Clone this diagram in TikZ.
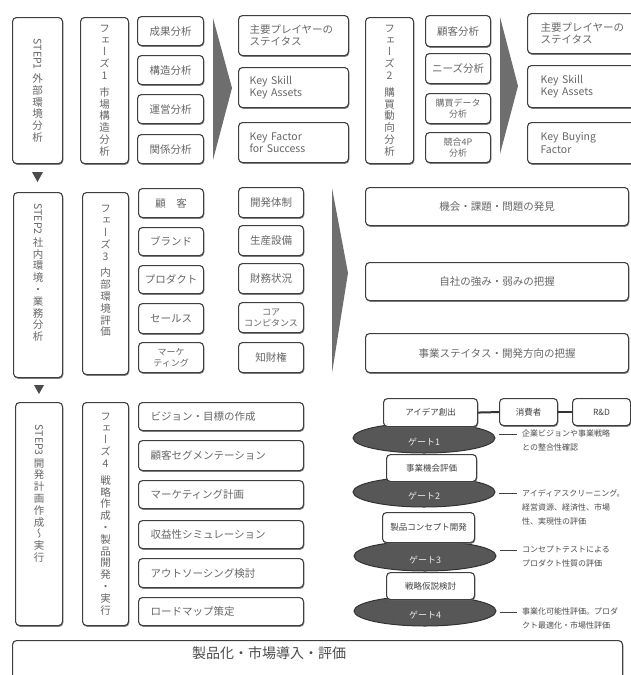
\documentclass[tikz,border=0pt]{standalone}
\usepackage{fontspec}
\usepackage{graphicx}
\usetikzlibrary{shapes.geometric,shadows}
\newfontfamily\jp{Noto Sans CJK JP}
\newfontfamily\vjp[RawFeature=+vert]{Noto Sans CJK JP}
\definecolor{bline}{HTML}{3F3F3F}
\definecolor{btext}{HTML}{666666}
\definecolor{gatefill}{HTML}{575757}
\definecolor{arrowfill}{HTML}{6E6E6E}
\newcommand\rotlat[1]{\rotatebox{-90}{#1}}
\tikzset{
  box/.style={draw=bline, line width=1.1pt, rounded corners=4pt, fill=white,
    drop shadow={shadow xshift=0.7pt, shadow yshift=-1.3pt, fill=black!60, opacity=0.8},
    text=btext, anchor=north west, inner sep=0pt, align=center,
    font=\jp\fontsize{10.5}{12.5}\selectfont},
  lbox/.style={box, align=left, inner xsep=#1},
  vbox/.style={box, align=center, font=\vjp\fontsize{10.5}{11.8}\selectfont},
  stackbox/.style={box, font=\jp\fontsize{8.5}{10}\selectfont, text=black!75},
  gate/.style={ellipse, draw=black!80, line width=1pt, fill=gatefill, minimum width=142, minimum height=30, inner sep=0pt},
  gatetext/.style={text=white!92!black, font=\jp\fontsize{9}{10}\selectfont},
  gline/.style={draw=black!75, line width=1pt},
  gnote/.style={anchor=north west, inner sep=0pt, align=left, text=black!70, font=\jp\fontsize{8}{14}\selectfont},
  bigarrow/.style={fill=arrowfill, draw=none},
  downtri/.style={fill=black!70, draw=none},
  joinline/.style={draw=black!80, line width=2pt},
}
\begin{document}
\begin{tikzpicture}[x=1pt, y=-1pt]
\useasboundingbox (0,0) rectangle (631,675);
\clip (0,0) rectangle (631,675);
\fill[white] (0,0) rectangle (631,675);

% ---------------- Row 1 ----------------
\node[vbox, minimum width=50, minimum height=146] (s1) at (12,17) {\rotlat{STEP1}\\[3pt]外\\部\\環\\境\\分\\析};
\node[vbox, minimum width=48, minimum height=146] (p1) at (80,17) {フ\\ェ\\ー\\ズ\\1\\[5pt]市\\場\\構\\造\\分\\析};
\node[box, minimum width=66, minimum height=29] (a1) at (137,16) {成果分析};
\node[box, minimum width=66, minimum height=29] (a2) at (137,55) {構造分析};
\node[box, minimum width=66, minimum height=29] (a3) at (137,94) {運営分析};
\node[box, minimum width=66, minimum height=29] (a4) at (137,134) {関係分析};
\fill[bigarrow] (213,18) -- (232,88) -- (213,160) -- cycle;
\node[lbox=11pt, text width=88, minimum height=40] (b1) at (238,15) {主要プレイヤーの\\ステイタス};
\node[lbox=11pt, text width=88, minimum height=40] (b2) at (238,67) {Key Skill\\Key Assets};
\node[lbox=11pt, text width=88, minimum height=40] (b3) at (238,122) {Key Factor\\for Success};
\node[vbox, minimum width=48, minimum height=146] (p2) at (365,17) {フ\\ェ\\ー\\ズ\\2\\[5pt]購\\買\\動\\向\\分\\析};
\node[box, minimum width=65, minimum height=31] (c1) at (425,15) {顧客分析};
\node[box, minimum width=65, minimum height=30] (c2) at (425,53) {ニーズ分析};
\node[box, minimum width=65, minimum height=30, font=\jp\fontsize{9}{11}\selectfont] (c3) at (425,93) {購買データ\\分析};
\node[box, minimum width=65, minimum height=30, font=\jp\fontsize{9}{11}\selectfont] (c4) at (425,132) {競合4P\\分析};
\fill[bigarrow] (500,17) -- (518,86) -- (500,154) -- cycle;
\node[lbox=13pt, text width=94, minimum height=40] (d1) at (527,13) {主要プレイヤーの\\ステイタス};
\node[lbox=13pt, text width=94, minimum height=42] (d2) at (527,65) {Key Skill\\Key Assets};
\node[lbox=13pt, text width=94, minimum height=41] (d3) at (527,122) {Key Buying\\Factor};

\fill[downtri] (32,172) -- (43,172) -- (37.5,182) -- cycle;

% ---------------- Row 2 ----------------
\node[vbox, minimum width=49, minimum height=185] (s2) at (13,192) {\rotlat{STEP2}\\[2pt]社\\内\\環\\境\\・\\業\\務\\分\\析\\[14pt]};
\node[vbox, minimum width=46, minimum height=182] (p3) at (82,192) {フ\\ェ\\ー\\ズ\\3\\[5pt]内\\部\\環\\境\\評\\価\\[14pt]};
\node[box, minimum width=65, minimum height=29] (e1) at (138,188) {顧\quad 客};
\node[box, minimum width=65, minimum height=28] (e2) at (138,227) {ブランド};
\node[box, minimum width=65, minimum height=28] (e3) at (138,265) {プロダクト};
\node[box, minimum width=65, minimum height=30] (e4) at (138,303) {セールス};
\node[box, minimum width=65, minimum height=30, font=\jp\fontsize{9}{11}\selectfont] (e5) at (138,342) {マーケ\\ティング};
\node[box, minimum width=65, minimum height=30] (f1) at (238,187) {開発体制};
\node[box, minimum width=65, minimum height=30] (f2) at (238,225) {生産設備};
\node[box, minimum width=65, minimum height=30] (f3) at (238,263) {財務状況};
\node[box, minimum width=65, minimum height=30, font=\jp\fontsize{9}{11}\selectfont] (f4) at (238,302) {コア\\コンピタンス};
\node[box, minimum width=65, minimum height=30] (f5) at (238,342) {知財権};
\fill[bigarrow] (332,188) -- (348,273) -- (332,373) -- cycle;
\node[box, minimum width=263, minimum height=38] (g1) at (365,187) {機会・課題・問題の発見};
\node[box, minimum width=263, minimum height=38] (g2) at (365,262) {自社の強み・弱みの把握};
\node[box, minimum width=263, minimum height=39] (g3) at (365,333) {事業ステイタス・開発方向の把握};

\fill[downtri] (34,385) -- (44,385) -- (39,394) -- cycle;

% ---------------- Row 3 ----------------
\node[vbox, minimum width=47, minimum height=223] (s3) at (15,402) {\rotlat{STEP3}\\[2pt]開\\発\\計\\画\\作\\成\\～\\実\\行\\[30pt]};
\node[vbox, minimum width=46, minimum height=223] (p4) at (82,402) {フ\\ェ\\ー\\ズ\\4\\[5pt]戦\\略\\作\\成\\・\\製\\品\\開\\発\\・\\実\\行};
\node[lbox=12pt, text width=141, minimum height=28] (h1) at (138,402) {ビジョン・目標の作成};
\node[lbox=12pt, text width=141, minimum height=30] (h2) at (138,440) {顧客セグメンテーション};
\node[lbox=12pt, text width=141, minimum height=28] (h3) at (138,480) {マーケティング計画};
\node[lbox=12pt, text width=141, minimum height=28] (h4) at (138,520) {収益性シミュレーション};
\node[lbox=12pt, text width=141, minimum height=29] (h5) at (138,558) {アウトソーシング検討};
\node[lbox=12pt, text width=141, minimum height=28] (h6) at (138,597) {ロードマップ策定};

% gates
\node[gate] (k1) at (424,438) {};
\node[gate] (k2) at (424,492) {};
\node[gate] (k3) at (425,556) {};
\node[gate] (k4) at (425,611) {};
\node[gatetext] (kt1) at ([yshift=-4pt]k1.center) {ゲート1};
\node[gatetext] (kt2) at ([yshift=-4pt]k2.center) {ゲート2};
\node[gatetext] (kt3) at ([yshift=-4pt]k3.center) {ゲート3};
\node[gatetext] (kt4) at ([yshift=-4pt]k4.center) {ゲート4};

% stage boxes
\node[stackbox, minimum width=94, minimum height=28] (i1) at (383,398) {アイデア創出};
\node[stackbox, minimum width=58, minimum height=27] (i2) at (499,398) {消費者};
\node[stackbox, minimum width=58, minimum height=27] (i3) at (572,398) {R\&D};
\node[stackbox, minimum width=90, minimum height=27] (i4) at (386,454) {事業機会評価};
\node[stackbox, minimum width=92, minimum height=30] (i5) at (382,512) {製品コンセプト開発};
\node[stackbox, minimum width=88, minimum height=27] (i6) at (386,572) {戦略仮説検討};
\draw[joinline] (i1.east) -- (i2.west);
\draw[joinline] (i2.east) -- (i3.west);

% gate notes
\coordinate (gl1) at (517,434);
\coordinate (gl2) at (517,493);
\coordinate (gl3) at (517,550);
\coordinate (gl4) at (517,612);
\draw[gline] ([xshift=3pt]k1.east |- gl1) -- (gl1);
\draw[gline] ([xshift=3pt]k2.east |- gl2) -- (gl2);
\draw[gline] ([xshift=3pt]k3.east |- gl3) -- (gl3);
\draw[gline] ([xshift=3pt]k4.east |- gl4) -- (gl4);
\node[gnote] (n1) at (522,430) {企業ビジョンや事業戦略\\との整合性確認};
\node[gnote] (n2) at (522,489) {アイディアスクリーニング。\\経営資源、経済性、市場\\性、実現性の評価};
\node[gnote] (n3) at (522,546) {コンセプトテストによる\\プロダクト性質の評価};
\node[gnote] (n4) at (522,608) {事業化可能性評価。プロダ\\クト最適化・市場性評価};

% bottom bar
\node[box, minimum width=610, minimum height=60] (bar) at (12,640) {};
\node[text=black!70, font=\jp\fontsize{14}{16}\selectfont, inner sep=0pt] (bart) at (269,653) {製品化・市場導入・評価};
\end{tikzpicture}
\end{document}
